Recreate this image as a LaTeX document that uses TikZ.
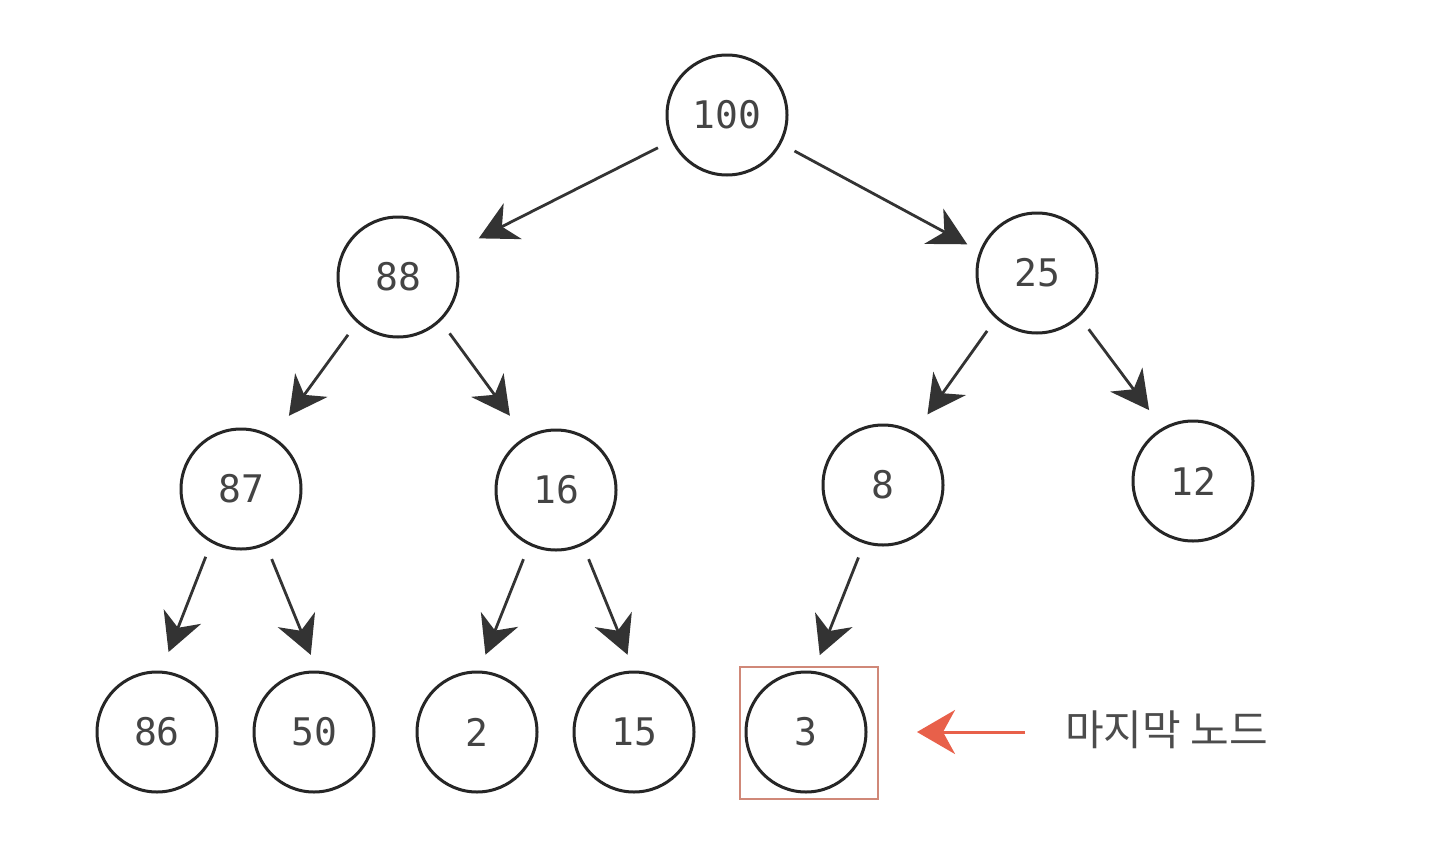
\documentclass[tikz,border=0pt]{standalone}
\usepackage{fontspec}
\newfontfamily\numfont{DejaVu Sans Mono}
\newfontfamily\krfont{Noto Sans CJK KR}
\usetikzlibrary{arrows.meta}
\definecolor{edgec}{HTML}{333333}
\definecolor{txtc}{HTML}{444444}
\definecolor{redarr}{HTML}{E8604A}
\definecolor{boxc}{HTML}{D08878}
\tikzset{
  heapnode/.style={circle, draw=black!85, line width=1.5pt, minimum size=60pt, inner sep=0pt,
    font=\numfont\fontsize{19}{22}\selectfont, text=txtc},
  heapedge/.style={draw=edgec, line width=1.4pt,
    -{Stealth[length=19pt,width=20pt,inset=6pt]}, shorten <=7.5pt, shorten >=#1},
  heapedge/.default=10pt,
}
\begin{document}
\begin{tikzpicture}[x=0.5pt,y=-0.5pt]
\useasboundingbox (0,0) rectangle (1440,851);
\fill[white] (0,0) rectangle (1440,851);
\node[heapnode] (n100) at (727,115) {100};
\node[heapnode] (n88) at (398,277) {88};
\node[heapnode] (n25) at (1037,273) {25};
\node[heapnode] (n87) at (241,489) {87};
\node[heapnode] (n16) at (556,490) {16};
\node[heapnode] (n8) at (883,485) {8};
\node[heapnode] (n12) at (1193,481) {12};
\node[heapnode] (n86) at (157,732) {86};
\node[heapnode] (n50) at (314,732) {50};
\node[heapnode] (n2) at (477,732) {2};
\node[heapnode] (n15) at (634,732) {15};
\node[heapnode] (n3) at (806,732) {3};
\node[draw=boxc, line width=0.8pt, minimum width=69pt, minimum height=66pt, inner sep=0pt] (box) at (809,733) {};
\draw[heapedge=14pt] (n100.205) -- (n88.25);
\draw[heapedge=7pt] (n100.332) -- (n25.159);
\draw[heapedge=13pt] (n88.228) -- (n87.58);
\draw[heapedge=13pt] (n88.314) -- (n16.120);
\draw[heapedge=11pt] (n25.228) -- (n8.59);
\draw[heapedge=11pt] (n25.314) -- (n12.120);
\draw[heapedge=10pt] (n87.241) -- (n86.86);
\draw[heapedge=8.5pt] (n87.294) -- (n50.87);
\draw[heapedge=8.5pt] (n16.244) -- (n2.88);
\draw[heapedge=8.5pt] (n16.296) -- (n15.90);
\draw[heapedge=8.5pt] (n8.252) -- (n3.83);
\node[font=\krfont\fontsize{21}{24}\selectfont, text=black!70, anchor=west] (lbl) at (1058,730) {마지막 노드};
\coordinate (tipc) at (917,732);
\coordinate (tail) at (1025,732);
\draw[draw=redarr, line width=1.5pt, -{Stealth[length=19pt,width=22pt,inset=6pt]}] (tail) -- (tipc);
\end{tikzpicture}
\end{document}
